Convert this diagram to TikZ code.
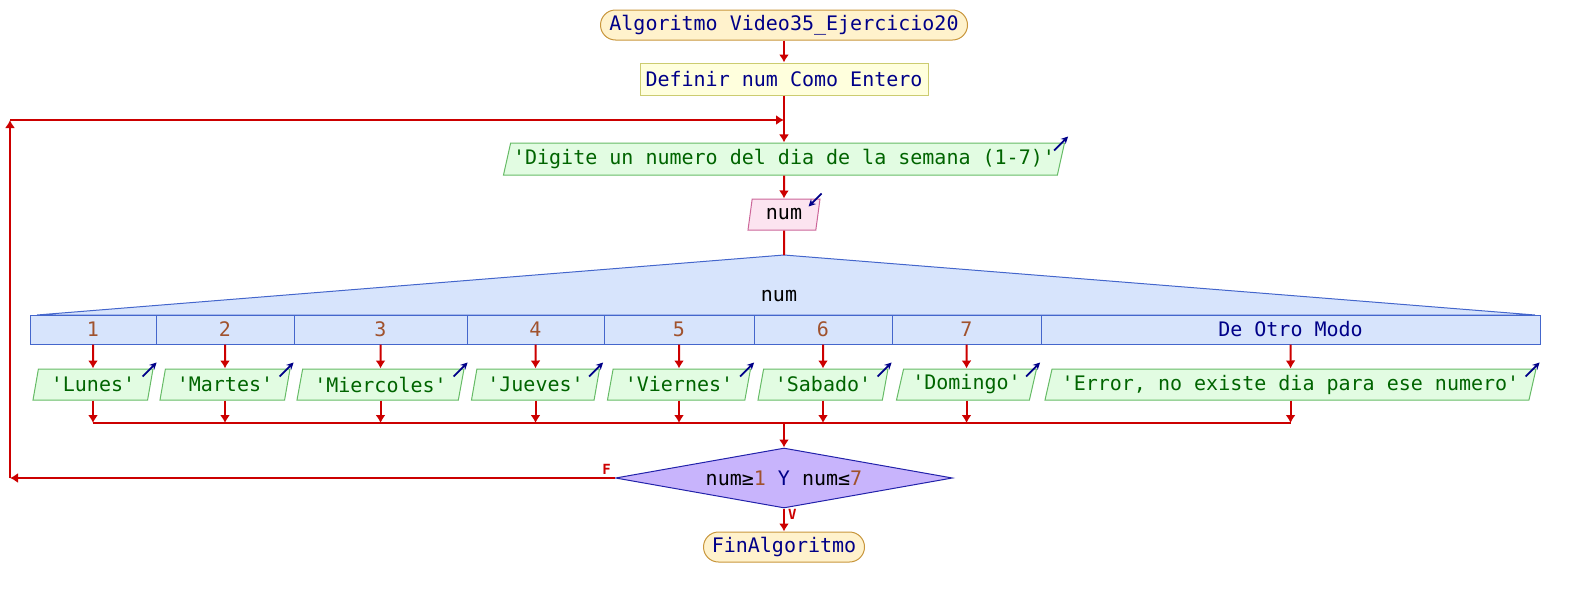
\documentclass[tikz,border=0pt]{standalone}
\usepackage{fontspec}
\setmonofont{DejaVu Sans Mono}
\usetikzlibrary{shapes.geometric, arrows.meta, positioning}
\definecolor{flow}{HTML}{CC0000}
\definecolor{kw}{HTML}{000088}
\definecolor{strc}{HTML}{006400}
\definecolor{numc}{HTML}{A0522D}
\definecolor{termfill}{HTML}{FFF2CC}
\definecolor{termline}{HTML}{C8963C}
\definecolor{deffill}{HTML}{FFFFDD}
\definecolor{defline}{HTML}{CCCC70}
\definecolor{outfill}{HTML}{E2FCE2}
\definecolor{outline}{HTML}{66BB66}
\definecolor{infill}{HTML}{FCE4F0}
\definecolor{inline}{HTML}{CC6699}
\definecolor{cellfill}{HTML}{D7E4FC}
\definecolor{cellline}{HTML}{4466CC}
\definecolor{condfill}{HTML}{C8B4FC}
\definecolor{condline}{HTML}{2222AA}

\begin{document}
\begin{tikzpicture}[x=1pt, y=-1pt, node distance=54pt, font=\ttfamily\fontsize{20}{24}\selectfont]
\tikzstyle{line}=[draw=flow, line width=2pt]
\tikzstyle{arrow}=[draw=flow, line width=2pt, -{Latex[length=8pt, width=10pt]}]
\tikzstyle{icon}=[draw=kw, line width=1.8pt, -{Stealth[length=7pt, width=7pt]}]
\tikzstyle{terminal} = [rectangle, rounded corners=15pt, minimum height=30pt, inner sep=0pt, draw=termline, fill=termfill, text=kw, line width=1pt]
\tikzstyle{declare} = [rectangle, minimum height=32pt, inner sep=0pt, draw=defline, fill=deffill, text=kw, line width=1pt]
\tikzstyle{outbox} = [trapezium, trapezium left angle=70, trapezium right angle=110, trapezium stretches body, minimum height=31pt, inner sep=0pt, draw=outline, fill=outfill, text=strc, line width=1pt]
\tikzstyle{inbox} = [trapezium, trapezium left angle=70, trapezium right angle=110, trapezium stretches body, minimum height=31pt, inner sep=0pt, draw=inline, fill=infill, text=black, line width=1pt]
\tikzstyle{casecell} = [rectangle, minimum height=29pt, inner sep=0pt, draw=cellline, fill=cellfill, line width=1pt]
\tikzstyle{decision} = [diamond, aspect=5.6, minimum width=337pt, minimum height=60pt, inner sep=0pt, draw=condline, fill=condfill, line width=1pt]
\tikzstyle{flag} = [text=flow, inner sep=1pt, font=\ttfamily\bfseries\fontsize{14}{16}\selectfont]

\useasboundingbox (0,0) rectangle (1572,600);

\node (start) [terminal, minimum width=367pt] at (784,25) {Algoritmo Video35\_Ejercicio20};
\node (def) [declare, minimum width=288pt, below of=start] {Definir num Como Entero};
\node (ask) [outbox, minimum width=561pt, minimum height=32pt, below of=def, yshift=-26pt] {'Digite un numero del dia de la semana (1-7)'};
\node (read) [inbox, minimum width=72pt, below of=ask, yshift=-1.5pt] {num};
\draw [icon] ([xshift=-11pt, yshift=-8pt]ask.top right corner) -- ([xshift=3pt, yshift=6pt]ask.top right corner);
\draw [icon] ([xshift=1pt, yshift=5pt]read.top right corner) -- ([xshift=-12pt, yshift=-8pt]read.top right corner);

\coordinate (apex) at (784,255);
\coordinate (tl) at (37,315);
\coordinate (tr) at (1535,315);
\filldraw [fill=cellfill, draw=cellline, line width=1pt] (tl) -- (apex) -- (tr) -- cycle;
\node (sel) at (779,296) {num};

\foreach \i/\cx/\w/\lbl/\col in {1/93/126/1/numc, 2/225/138/2/numc, 3/380.5/173/3/numc, 4/535.5/137/4/numc, 5/679/150/5/numc, 6/823/138/6/numc, 7/966.5/149/7/numc, 8/1290.5/499/De Otro Modo/kw}
  \node (c\i) [casecell, minimum width=\w pt, text=\col] at (\cx,329.5) {\lbl};

\foreach \i/\w/\txt in {1/120/'Lunes', 2/130/'Martes', 3/167/'Miercoles', 4/128/'Jueves', 5/143/'Viernes', 6/130/'Sabado', 7/140/'Domingo', 8/491/{'Error, no existe dia para ese numero'}}
{
  \node (o\i) [outbox, minimum width=\w pt, below of=c\i, yshift=-1pt] {\txt};
  \draw [icon] ([xshift=-11pt, yshift=-8pt]o\i.top right corner) -- ([xshift=3pt, yshift=6pt]o\i.top right corner);
}

\coordinate (merge) at (784,423);
\foreach \i in {1,...,8}
{
  \draw [arrow] (c\i.south) -- (o\i.north);
  \draw [arrow] (o\i.south) -- (o\i.south |- merge);
}
\draw [line] (o1.south |- merge) -- (o8.south |- merge);

\node (cond) [decision] at (784,478) {num≥{\color{numc}1} {\color{kw}Y} num≤{\color{numc}7}};
\node (fin) [terminal, minimum width=161pt, below of=cond, yshift=-15pt] {FinAlgoritmo};
\node (vlbl) [flag, anchor=north west, xshift=3pt] at (cond.south) {V};
\node (flbl) [flag, anchor=south east, xshift=-3pt, yshift=2pt] at (cond.west) {F};

\coordinate (loopbl) at (10,478);
\coordinate (looptl) at (10,120);
\coordinate (join) at (784,120);

\draw [arrow] (start) -- (def);
\draw [arrow] (def) -- (ask);
\draw [arrow] (ask) -- (read);
\draw [line] (read) -- (apex);
\draw [arrow] (merge) -- (cond.north);
\draw [arrow] (cond.south) -- (fin.north);
\draw [arrow] (cond.west) -- (loopbl);
\draw [arrow] (loopbl) -- (looptl);
\draw [arrow] (looptl) -- (join);

\end{tikzpicture}
\end{document}
